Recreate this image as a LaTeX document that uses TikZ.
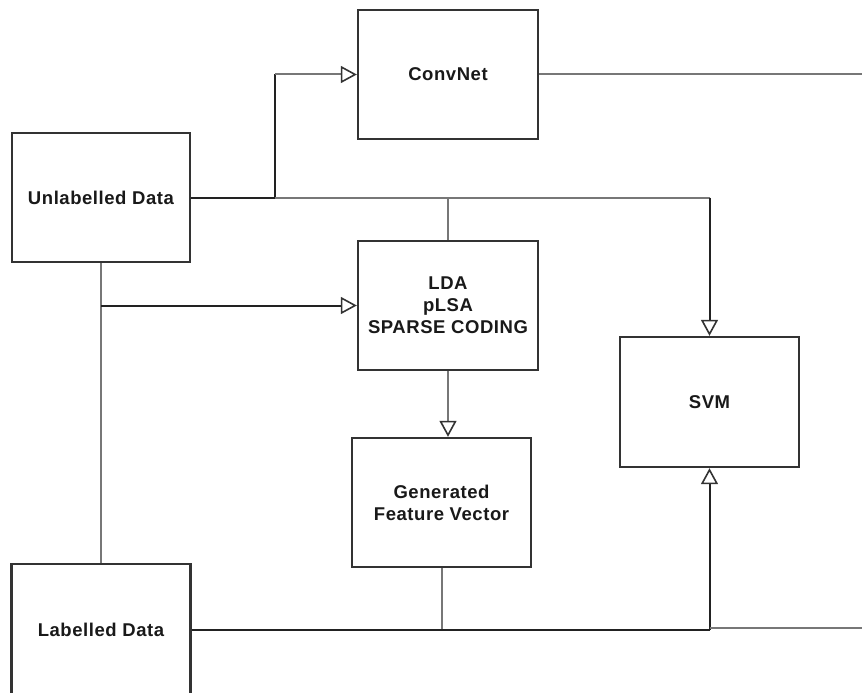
\documentclass[tikz,border=0pt]{standalone}
\usepackage{fontspec}
\setmainfont{Liberation Sans}[LetterSpace=3]
\usetikzlibrary{arrows.meta}
\definecolor{edgecol}{HTML}{333333}
\definecolor{lightline}{HTML}{777777}
\definecolor{darkline}{HTML}{222222}
\tikzset{
 box/.style={draw=edgecol, line width=2.4pt, fill=white, align=center,
   font=\fontsize{18.5}{22}\selectfont\bfseries, text=black!90, inner sep=0pt},
 lite/.style={draw=lightline, line width=2pt},
 dark/.style={draw=darkline, line width=2pt},
 tip/.style={-{Triangle[open, length=16pt, width=17pt, line width=1.6pt, color=edgecol]}},
}
\begin{document}
\begin{tikzpicture}[x=1pt,y=-1pt]
\useasboundingbox (0,0) rectangle (862,693);
\clip (0,0) rectangle (862,693);
% boxes
\node[box, minimum width=178pt, minimum height=129pt] (unl) at (101,197.5) {Unlabelled Data};
\node[box, minimum width=180pt, minimum height=129pt] (conv) at (448,74.5) {ConvNet};
\node[box, minimum width=180pt, minimum height=129pt] (lda) at (448,305.5) {LDA\\pLSA\\SPARSE CODING};
\node[box, minimum width=179pt, minimum height=130pt] (svm) at (709.5,402) {SVM};
\node[box, minimum width=179pt, minimum height=129pt] (gen) at (441.5,502.5) {Generated\\Feature Vector};
\node[box, minimum width=179pt, minimum height=132pt] (lab) at (101,630) {Labelled Data};
% junctions and free ends
\coordinate (j1) at (275,197.5);
\coordinate (j2) at (709.5,197.5);
\coordinate (j3) at (101,305.5);
\coordinate (j4) at (709.5,630);
\coordinate (outA) at (862,74.5);
\coordinate (outB) at (862,628);
% connectors
\draw[dark] (unl.east) -- (j1);
\draw[dark] (j1) -- (j1 |- conv.west);
\draw[lite, tip] (j1 |- conv.west) -- (conv.west);
\draw[lite] (j1) -- (j2);
\draw[dark, tip] (j2) -- (svm.north);
\draw[lite] (lda.north |- j1) -- (lda.north);
\draw[lite] (unl.south) -- (lab.north);
\draw[dark, tip] (j3) -- (lda.west);
\draw[lite, tip] (lda.south) -- (lda.south |- gen.north);
\draw[lite] (gen.south) -- (gen.south |- lab.east);
\draw[dark] (lab.east) -- (j4);
\draw[dark, tip] (j4) -- (svm.south);
\draw[lite] (j4 |- outB) -- (outB);
\draw[lite] (conv.east) -- (outA);
\end{tikzpicture}
\end{document}
